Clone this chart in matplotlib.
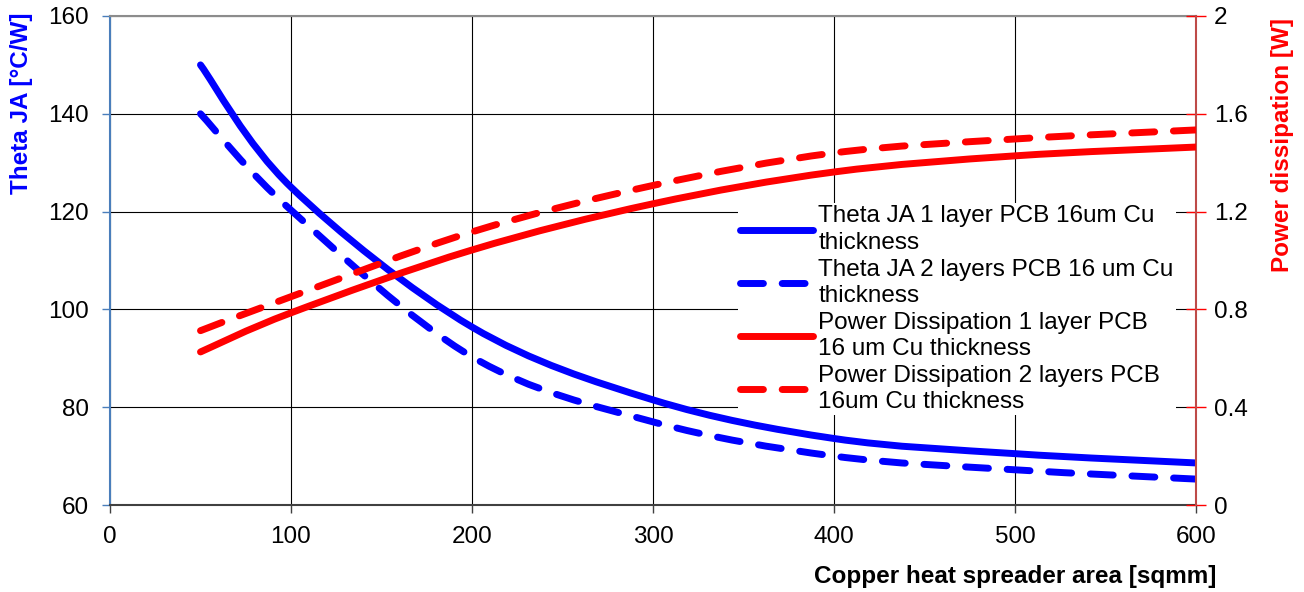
import numpy as np
import matplotlib.pyplot as plt
from matplotlib.path import Path
from matplotlib.patches import PathPatch
from matplotlib.lines import Line2D

plt.rcParams['font.family'] = ['Liberation Sans', 'DejaVu Sans']

area = [50, 100, 200, 300, 400, 500, 600]
theta_1layer = [150, 125, 96.4, 81.5, 73.6, 70.5, 68.6]
theta_2layers = [140, 120.3, 90.3, 77.0, 70.0, 67.2, 65.3]
power_1layer = [0.626, 0.786, 1.043, 1.232, 1.362, 1.428, 1.464]
power_2layers = [0.713, 0.852, 1.117, 1.307, 1.440, 1.497, 1.534]

labels = [
    "Theta JA 1 layer PCB 16um Cu\nthickness",
    "Theta JA 2 layers PCB 16 um Cu\nthickness",
    "Power Dissipation 1 layer PCB\n16 um Cu thickness",
    "Power Dissipation 2 layers PCB\n16um Cu thickness",
]

BLUE = '#0000ff'
RED = '#ff0000'
DASH = (0, (3.3, 2.7))
LW = 5
FS = 17.5


def smooth_path(x, y):
    """Catmull-Rom style smoothed curve through the points, as cubic Beziers."""
    pts = np.column_stack([x, y]).astype(float)
    n = len(pts)
    verts = [pts[0]]
    codes = [Path.MOVETO]
    for i in range(n - 1):
        p0 = pts[i - 1] if i > 0 else pts[i]
        p1 = pts[i]
        p2 = pts[i + 1]
        p3 = pts[i + 2] if i + 2 < n else pts[i + 1]
        c1 = p1 + (p2 - p0) / 6.0
        c2 = p2 - (p3 - p1) / 6.0
        verts += [c1, c2, p2]
        codes += [Path.CURVE4] * 3
    return Path(verts, codes)


def add_curve(ax, x, y, color, ls):
    patch = PathPatch(smooth_path(x, y), fill=False, edgecolor=color,
                      linewidth=LW, linestyle=ls, capstyle='round',
                      joinstyle='round', zorder=3)
    ax.add_patch(patch)


fig = plt.figure(figsize=(13.04, 5.92), dpi=100)
ax = fig.add_axes([110 / 1304, 87 / 592, 1086 / 1304, 489 / 592])
ax2 = ax.twinx()

ax.set_xlim(0, 600)
ax.set_ylim(60, 160)
ax2.set_ylim(0, 2)
ax.set_xticks(range(0, 601, 100))
ax.set_yticks(range(60, 161, 20))
ax2.set_yticks([0, 0.4, 0.8, 1.2, 1.6, 2])
ax2.set_yticklabels(['0', '0.4', '0.8', '1.2', '1.6', '2'])

ax.grid(True, color='black', linewidth=0.8)
ax.set_axisbelow(True)

add_curve(ax, area, theta_1layer, BLUE, '-')
add_curve(ax, area, theta_2layers, BLUE, DASH)
add_curve(ax2, area, power_1layer, RED, '-')
add_curve(ax2, area, power_2layers, RED, DASH)

# spines and ticks
ax.spines['left'].set_color('#4a7ebb')
ax.spines['left'].set_linewidth(1.5)
ax.spines['bottom'].set_color('#404040')
ax.spines['bottom'].set_linewidth(1.5)
ax.spines['top'].set_color('#8c8c8c')
ax.spines['top'].set_linewidth(1.5)
ax.spines['right'].set_visible(False)
ax2.spines['right'].set_color('#be4b48')
ax2.spines['right'].set_linewidth(1.5)
for s in ['left', 'top', 'bottom']:
    ax2.spines[s].set_visible(False)

ax.tick_params(axis='y', colors='#4a7ebb', labelcolor='black', length=6,
               width=1, labelsize=FS, pad=9)
ax.tick_params(axis='x', colors='#404040', labelcolor='black', length=6,
               width=1, labelsize=FS, pad=9)
ax2.tick_params(axis='y', colors=RED, labelcolor='black', direction='inout',
                length=14, width=1, labelsize=FS, pad=6)

# axis titles sit at the top of each side
fig.text(22 / 1304, 1 - 12 / 592, 'Theta JA [°C/W]', color=BLUE,
         fontsize=FS, fontweight='bold', rotation=90, ha='center', va='top')
fig.text(1283 / 1304, 1 - 18 / 592, 'Power dissipation [W]', color=RED,
         fontsize=FS, fontweight='bold', rotation=90, ha='center', va='top')
fig.text(1216 / 1304, 1 - 577 / 592, 'Copper heat spreader area [sqmm]',
         ha='right', va='center', fontsize=FS, fontweight='bold')

handles = [
    Line2D([], [], color=BLUE, lw=LW, ls='-', solid_capstyle='round'),
    Line2D([], [], color=BLUE, lw=LW, ls=DASH, dash_capstyle='round'),
    Line2D([], [], color=RED, lw=LW, ls='-', solid_capstyle='round'),
    Line2D([], [], color=RED, lw=LW, ls=DASH, dash_capstyle='round'),
]
leg = ax2.legend(handles, labels, loc='upper left',
                 bbox_to_anchor=(738 / 1304, 1 - 203 / 592),
                 bbox_transform=fig.transFigure, fontsize=FS,
                 frameon=True, fancybox=False, framealpha=1,
                 edgecolor='none', facecolor='white', handlelength=3.0,
                 handletextpad=0.2, labelspacing=0.2, borderpad=0.1,
                 borderaxespad=0)
for t in leg.get_texts():
    t.set_linespacing(1.25)
leg.set_zorder(5)

fig.savefig('out.png', dpi=100)
